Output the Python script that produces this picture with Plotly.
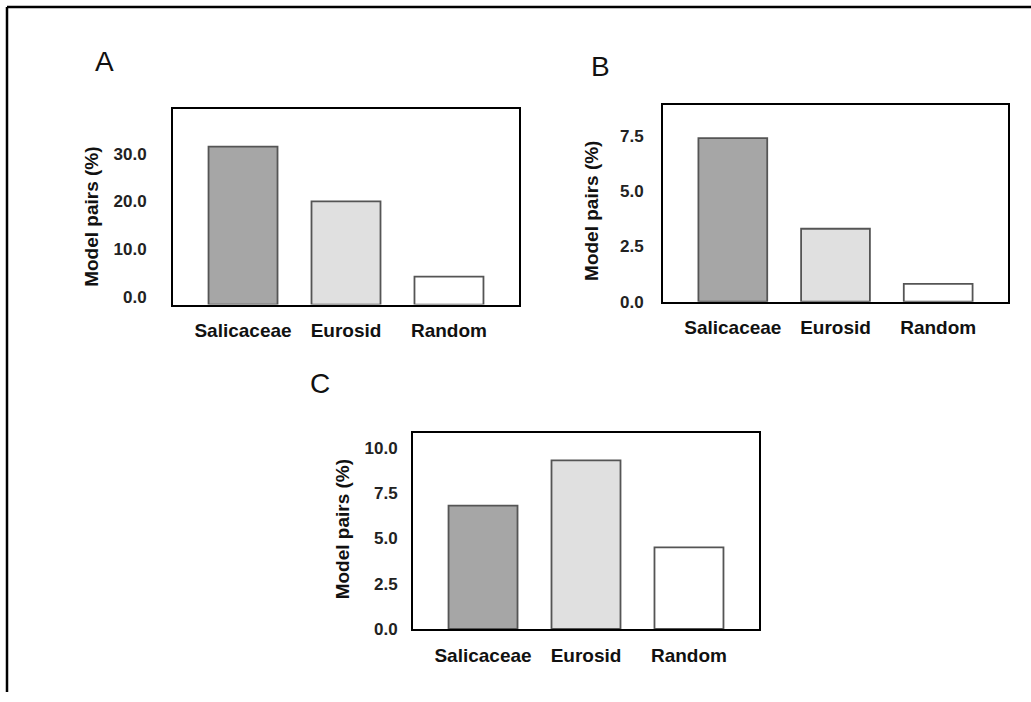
import plotly.graph_objects as go

W, H = 1031, 702

CATEGORIES = ["Salicaceae", "Eurosid", "Random"]
PANEL_A = [31.5, 20.0, 4.2]
PANEL_B = [7.4, 3.3, 0.8]
PANEL_C = [6.8, 9.3, 4.5]
TICKS_A = [0, 10, 20, 30]
TICKS_B = [0, 2.5, 5, 7.5]
TICKS_C = [0, 2.5, 5, 7.5, 10]
BAR_COLORS = ["#a6a6a6", "#e0e0e0", "#ffffff"]
Y_TITLE = "Model pairs (%)"

FONT = "Liberation Sans, Arial, sans-serif"

def px_x(p):
    return p / W

def px_y(p):
    return 1 - p / H

# panel geometry (pixels): left, right, top, bottom
panels = [
    dict(vals=PANEL_A, ticks=TICKS_A, rng=[-1.66, 39.3], box=(173, 519, 111, 309), fmt="{:.1f}",
         standoff=21, title_xy=(92, 220), letter_xy=(104, 62), letter="A"),
    dict(vals=PANEL_B, ticks=TICKS_B, rng=[0, 8.88], box=(663, 1008, 107, 306), fmt="{:.1f}",
         standoff=14, title_xy=(592, 214), letter_xy=(600, 67), letter="B"),
    dict(vals=PANEL_C, ticks=TICKS_C, rng=[0, 10.82], box=(413, 759, 439, 638), fmt="{:.1f}",
         standoff=10, title_xy=(342, 537), letter_xy=(320, 389), letter="C"),
]

fig = go.Figure()
annotations = []
for i, p in enumerate(panels):
    n = "" if i == 0 else str(i + 1)
    base = p["rng"][0]
    fig.add_trace(go.Bar(
        x=CATEGORIES,
        y=[v - base for v in p["vals"]],
        base=base,
        width=0.67,
        marker=dict(color=BAR_COLORS, line=dict(color="#555555", width=1.8)),
        xaxis="x" + n, yaxis="y" + n,
        showlegend=False,
    ))
    l, r, t, b = p["box"]
    fig.layout["xaxis" + n] = dict(
        domain=[px_x(l), px_x(r)], anchor="y" + n,
        range=[-0.68, 2.68], showline=True, mirror=True, linecolor="black", linewidth=2,
        showgrid=False, zeroline=False, ticks="",
        tickfont=dict(family=FONT, size=19, color="#111111", weight="bold"),
        ticklabelstandoff=8,
    )
    fig.layout["yaxis" + n] = dict(
        domain=[px_y(b), px_y(t)], anchor="x" + n,
        range=p["rng"], showline=True, mirror=True, linecolor="black", linewidth=2,
        showgrid=False, zeroline=False, ticks="",
        tickvals=p["ticks"], ticktext=[p["fmt"].format(v) for v in p["ticks"]],
        tickfont=dict(family=FONT, size=17, color="#222222", weight="bold"),
        ticklabelstandoff=p["standoff"],
    )
    tx, ty = p["title_xy"]
    annotations.append(dict(
        x=px_x(tx), y=px_y(ty), xref="paper", yref="paper", text=Y_TITLE,
        textangle=-90, showarrow=False, xanchor="center", yanchor="middle",
        font=dict(family=FONT, size=19, color="#111111", weight="bold"),
    ))
    lx, ly = p["letter_xy"]
    annotations.append(dict(
        x=px_x(lx), y=px_y(ly), xref="paper", yref="paper", text=p["letter"],
        showarrow=False, xanchor="center", yanchor="middle",
        font=dict(family=FONT, size=28, color="#111111"),
    ))

shapes = [
    dict(type="line", xref="paper", yref="paper", x0=px_x(7), x1=1.0, y0=px_y(7), y1=px_y(7),
         line=dict(color="black", width=2.5)),
    dict(type="line", xref="paper", yref="paper", x0=px_x(7), x1=px_x(7), y0=px_y(7), y1=0.0,
         line=dict(color="black", width=2.5)),
]

fig.update_layout(
    width=W, height=H, margin=dict(l=0, r=0, t=0, b=0),
    paper_bgcolor="white", plot_bgcolor="white",
    annotations=annotations, shapes=shapes,
)

fig.write_html("out.html", config={"displayModeBar": False})
